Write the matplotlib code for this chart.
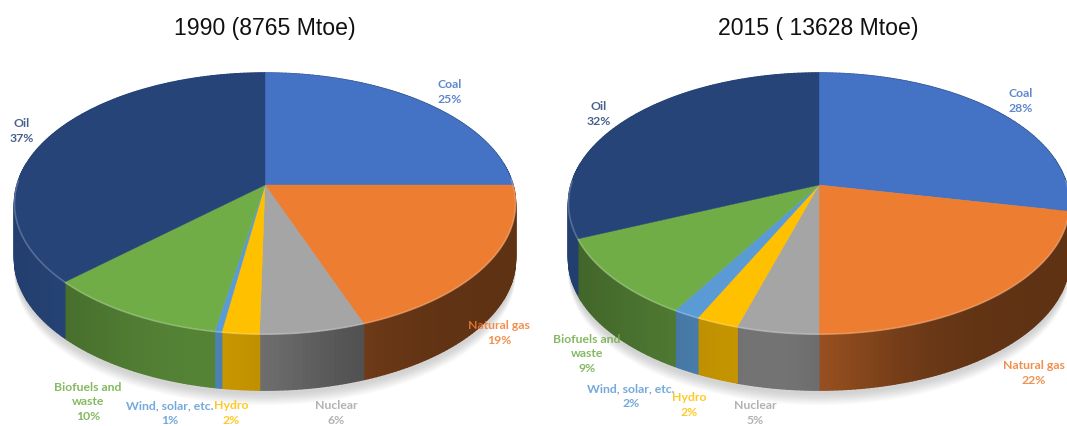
import numpy as np
import matplotlib
matplotlib.use('Agg')
import matplotlib.pyplot as plt

# Slice sizes (percent of the circle)
values_1990 = [25, 19.4, 5.9, 2.1, 0.4, 10.2, 37]
values_2015 = [28.2, 21.8, 4.6, 2.4, 1.5, 10, 31.5]

# Printed labels
names = ['Coal', 'Natural gas', 'Nuclear', 'Hydro', 'Wind, solar, etc.', 'Biofuels and\nwaste', 'Oil']
pct_1990 = ['25%', '19%', '6%', '2%', '1%', '10%', '37%']
pct_2015 = ['28%', '22%', '5%', '2%', '2%', '9%', '32%']

colors = ['#4472C4', '#ED7D31', '#A5A5A5', '#FFC000', '#5B9BD5', '#70AD47', '#264478']
side_floor = [0.6, 0.4, 0.42, 0.5, 0.55, 0.48, 0.82]

# label centres in pixels
label_pos_1990 = [(450, 92), (499, 333), (336, 413), (231, 413), (170, 413), (88, 402), (22, 131)]
label_pos_2015 = [(1021, 101), (1034, 373), (755, 413), (689, 405), (631, 396), (587, 354), (599, 114)]

RX, RY, K, DEPTH = 248, 128, 0.142, 56


def project(theta, cx, cy):
    # theta clockwise from 12 o'clock, a bit of perspective on the disc
    x, y = np.sin(theta), np.cos(theta)
    return cx + RX * x / (1 + K * y), cy - RY * y / (1 + K * y)


def shade(u, floor):
    width = 0.8 if u < -0.2 else 0.5
    return floor + (0.7 - 0.42) * np.exp(-((u + 0.2) / width) ** 2)


def draw_pie(ax, values, cx, cy):
    edges = np.cumsum([0] + values) / sum(values) * 2 * np.pi

    # soft shadow under the pie
    t = np.linspace(0, 2 * np.pi, 200)
    sx, sy = project(t, cx, cy)
    for i in range(12):
        ax.fill(sx, sy + DEPTH + 15 - i, color='#808080', alpha=0.03, lw=0, zorder=1)

    # side wall, lots of small facets for the gradient
    for k, val in enumerate(values):
        n = max(3, int(val * 4))
        th = np.linspace(edges[k], edges[k + 1], n + 1)
        px, py = project(th, cx, cy)
        for j in range(n):
            f = shade((px[j] + px[j + 1]) / 2 / RX - cx / RX, side_floor[k])
            rgb = np.array(matplotlib.colors.to_rgb(colors[k])) * min(f, 1)
            ax.fill([px[j], px[j + 1], px[j + 1], px[j]],
                    [py[j], py[j + 1], py[j + 1] + DEPTH, py[j] + DEPTH],
                    color=rgb, lw=1.0, zorder=2)

    # top face
    for k, val in enumerate(values):
        th = np.linspace(edges[k], edges[k + 1], max(4, int(val * 4)))
        px, py = project(th, cx, cy)
        ax.fill(np.r_[cx, px], np.r_[cy, py], color=colors[k], lw=0.3, zorder=3)
        # lighter bevel on the front rim
        front = np.cos(th) < 0.05
        if front.any():
            light = 0.55 * np.array(matplotlib.colors.to_rgb(colors[k])) + 0.45
            ax.plot(px[front], py[front], color=light, lw=1.2, alpha=0.5,
                    solid_capstyle='butt', zorder=4)


def draw_labels(ax, pcts, positions):
    for k, name in enumerate(names):
        x, y = positions[k]
        ax.text(x, y, name + '\n' + pcts[k], color=colors[k], ha='center', va='center',
                fontsize=8.8, fontweight='bold', family='Lato', linespacing=1.42,
                alpha=0.85, zorder=6, clip_on=True)


fig = plt.figure(figsize=(10.67, 4.27), dpi=100)
ax = fig.add_axes([0, 0, 1, 1])
ax.set_xlim(0, 1067)
ax.set_ylim(427, 0)
ax.axis('off')

draw_pie(ax, values_1990, 265, 186)
draw_pie(ax, values_2015, 819, 186)
draw_labels(ax, pct_1990, label_pos_1990)
draw_labels(ax, pct_2015, label_pos_2015)

ax.text(265, 28, '1990 (8765 Mtoe)', ha='center', va='center', fontsize=16.6,
        family='Liberation Sans', color='#111111')
ax.text(818, 28, '2015 ( 13628 Mtoe)', ha='center', va='center', fontsize=16.6,
        family='Liberation Sans', color='#111111')

fig.savefig('out.png', dpi=100)
